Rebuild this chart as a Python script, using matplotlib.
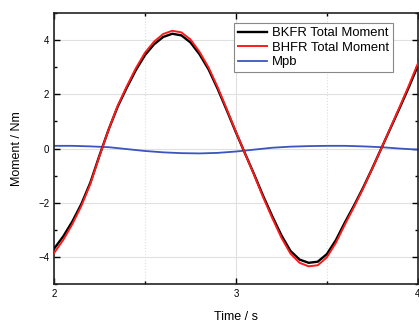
import matplotlib
matplotlib.use("Agg")
import matplotlib.pyplot as plt
from matplotlib.ticker import MultipleLocator

plt.rcParams['font.family'] = ['Liberation Sans', 'DejaVu Sans']

# tiempos (s) leidos cada 0.05 s
tiempo = [2.00, 2.05, 2.10, 2.15, 2.20, 2.25, 2.30, 2.35, 2.40, 2.45,
          2.50, 2.55, 2.60, 2.65, 2.70, 2.75, 2.80, 2.85, 2.90, 2.95,
          3.00, 3.05, 3.10, 3.15, 3.20, 3.25, 3.30, 3.35, 3.40, 3.45,
          3.50, 3.55, 3.60, 3.65, 3.70, 3.75, 3.80, 3.85, 3.90, 3.95, 4.00]

bkfr = [-3.70, -3.25, -2.70, -2.05, -1.25, -0.25, 0.70, 1.55, 2.25, 2.90,
        3.45, 3.85, 4.12, 4.24, 4.18, 3.92, 3.48, 2.92, 2.20, 1.41,
        0.60, -0.18, -0.95, -1.75, -2.50, -3.20, -3.78, -4.10, -4.22, -4.18,
        -3.90, -3.38, -2.72, -2.10, -1.44, -0.73, 0.01, 0.75, 1.49, 2.25, 3.05]

bhfr = [-3.86, -3.38, -2.80, -2.12, -1.30, -0.27, 0.70, 1.58, 2.30, 2.97,
        3.54, 3.95, 4.23, 4.35, 4.29, 4.03, 3.57, 2.99, 2.26, 1.45,
        0.62, -0.18, -0.97, -1.80, -2.57, -3.29, -3.88, -4.22, -4.35, -4.31,
        -4.02, -3.48, -2.80, -2.15, -1.47, -0.74, 0.01, 0.77, 1.53, 2.31, 3.13]

# Mpb cada 0.1 s
tiempo_mpb = [2.0, 2.1, 2.2, 2.3, 2.4, 2.5, 2.6, 2.7, 2.8, 2.9, 3.0,
              3.1, 3.2, 3.3, 3.4, 3.5, 3.6, 3.7, 3.8, 3.9, 4.0]
mpb = [0.10, 0.10, 0.08, 0.05, -0.02, -0.09, -0.14, -0.17, -0.18, -0.16, -0.11,
       -0.04, 0.03, 0.07, 0.09, 0.10, 0.10, 0.08, 0.05, 0.00, -0.04]

fig = plt.figure(figsize=(4.19, 3.29), dpi=100)
ax = fig.add_axes([0.129, 0.137, 0.868, 0.823])

ax.plot(tiempo_mpb, mpb, color='#3a55c0', lw=1.3, label='Mpb', zorder=2)
ax.plot(tiempo, bkfr, color='black', lw=1.7, label='BKFR Total Moment', zorder=3)
ax.plot(tiempo, bhfr, color='#ff1a1a', lw=1.4, label='BHFR Total Moment', zorder=4)

ax.set_xlim(2, 4)
ax.set_ylim(-5, 5)
ax.xaxis.set_major_locator(MultipleLocator(1))
ax.xaxis.set_minor_locator(MultipleLocator(0.5))
ax.yaxis.set_major_locator(MultipleLocator(2))
ax.yaxis.set_minor_locator(MultipleLocator(1))

ax.grid(True, which='major', color='#e0e0e0', lw=0.8, zorder=0)
ax.grid(True, which='minor', axis='x', color='#dddddd', lw=0.8, ls=':', zorder=0)

ax.tick_params(which='both', direction='in', top=True, right=True, labelsize=7)
ax.tick_params(which='major', length=4, width=1)
ax.tick_params(which='minor', length=2.5, width=1)
for s in ax.spines.values():
    s.set_linewidth(1.2)
    s.set_color('#222222')

ax.set_xlabel('Time / s', fontsize=9, labelpad=9)
ax.set_ylabel('Moment / Nm', fontsize=9, labelpad=11)

h, l = ax.get_legend_handles_labels()
orden = [1, 2, 0]
leg = ax.legend([h[i] for i in orden], [l[i] for i in orden], loc='upper right',
                bbox_to_anchor=(0.931, 0.963), fontsize=9.4, fancybox=False,
                framealpha=1, edgecolor='#888888', handlelength=2.2,
                handletextpad=0.4, borderpad=0.3, labelspacing=0.18, borderaxespad=0)
leg.get_frame().set_linewidth(0.8)

fig.savefig('out.png', dpi=100)
